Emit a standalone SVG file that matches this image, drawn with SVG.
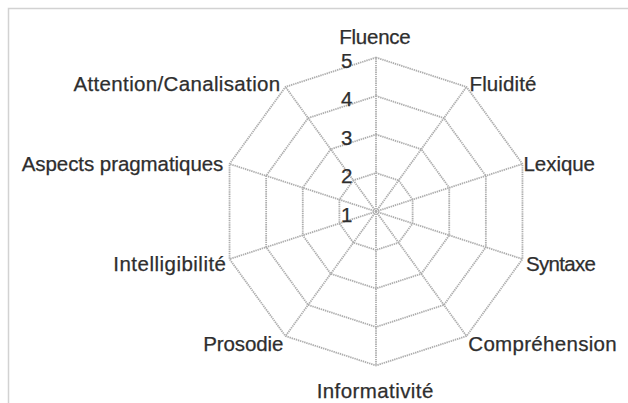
<svg xmlns="http://www.w3.org/2000/svg" width="628" height="403" viewBox="0 0 628 403">
<style>
.grid{fill:none;stroke:#adadad;stroke-width:1.8;stroke-dasharray:1.4 0.8;stroke-linejoin:round}
.lbl{font-family:"Liberation Sans",Arial,sans-serif;font-size:20.5px;fill:#2e2e2e;stroke:#2e2e2e;stroke-width:0.25}
.num{font-family:"Liberation Sans",Arial,sans-serif;font-size:20.5px;fill:#2e2e2e;stroke:#2e2e2e;stroke-width:0.25;text-anchor:end}
</style>
<rect width="628" height="403" fill="#ffffff"/>
<path d="M8.5 403 V8.5 H628" fill="none" stroke="#d2d2d2" stroke-width="1.5"/>
<g id="connectors">
<polygon class="grid" points="376,57.5 466.52,86.91 522.46,163.91 522.46,259.09 466.52,336.09 376,365.5 285.48,336.09 229.54,259.09 229.54,163.91 285.48,86.91"/>
<polygon class="grid" points="376,96 443.89,118.06 485.85,175.81 485.85,247.19 443.89,304.94 376,327 308.11,304.94 266.15,247.19 266.15,175.81 308.11,118.06"/>
<polygon class="grid" points="376,134.5 421.26,149.2 449.23,187.7 449.23,235.3 421.26,273.8 376,288.5 330.74,273.8 302.77,235.3 302.77,187.7 330.74,149.2"/>
<polygon class="grid" points="376,173 398.63,180.35 412.62,199.6 412.62,223.4 398.63,242.65 376,250 353.37,242.65 339.38,223.4 339.38,199.6 353.37,180.35"/>
<path class="grid" d="M376 211.5 L376 57.5 M376 211.5 L466.52 86.91 M376 211.5 L522.46 163.91 M376 211.5 L522.46 259.09 M376 211.5 L466.52 336.09 M376 211.5 L376 365.5 M376 211.5 L285.48 336.09 M376 211.5 L229.54 259.09 M376 211.5 L229.54 163.91 M376 211.5 L285.48 86.91"/>
</g>
<g id="scale">
<text class="num" x="352.5" y="67.5">5</text>
<text class="num" x="352.5" y="106">4</text>
<text class="num" x="352.5" y="144.5">3</text>
<text class="num" x="352.5" y="183">2</text>
<text class="num" x="352.5" y="221.5">1</text>
</g>
<g id="fluence"><text class="lbl" x="339.3" y="44" textLength="71.4" lengthAdjust="spacing">Fluence</text></g>
<g id="fluidite"><text class="lbl" x="469.5" y="90.5" textLength="67" lengthAdjust="spacing">Fluidité</text></g>
<g id="lexique"><text class="lbl" x="523.5" y="171" textLength="71.5" lengthAdjust="spacing">Lexique</text></g>
<g id="syntaxe"><text class="lbl" x="526" y="270.5" textLength="70" lengthAdjust="spacing">Syntaxe</text></g>
<g id="comprehension"><text class="lbl" x="468.3" y="350.5" textLength="148.4" lengthAdjust="spacing">Compréhension</text></g>
<g id="informativite"><text class="lbl" x="316.7" y="397.5" textLength="116.6" lengthAdjust="spacing">Informativité</text></g>
<g id="prosodie"><text class="lbl" x="203.3" y="350.5" textLength="80" lengthAdjust="spacing">Prosodie</text></g>
<g id="intelligibilite"><text class="lbl" x="113.3" y="270.5" textLength="112.7" lengthAdjust="spacing">Intelligibilité</text></g>
<g id="aspects"><text class="lbl" x="21.7" y="170.5" textLength="201.6" lengthAdjust="spacing">Aspects pragmatiques</text></g>
<g id="attention"><text class="lbl" x="73.5" y="91" textLength="206.7" lengthAdjust="spacing">Attention/Canalisation</text></g>
</svg>
